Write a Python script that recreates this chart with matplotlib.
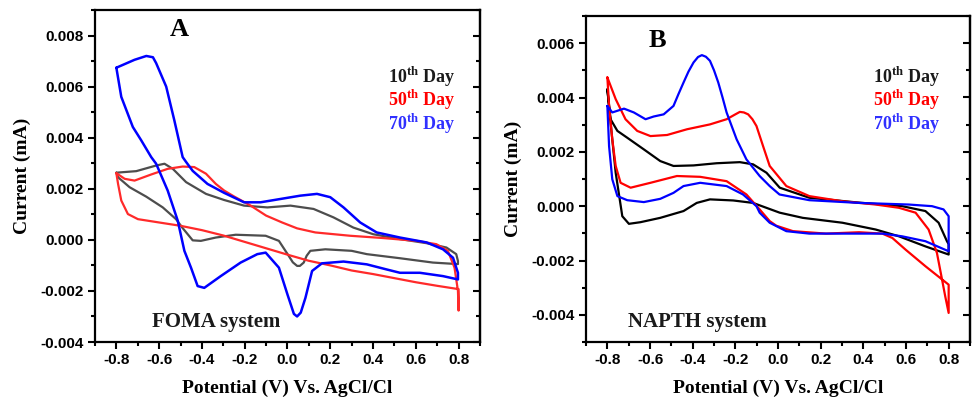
import numpy as np
import matplotlib
matplotlib.use("Agg")
import matplotlib.pyplot as plt
from matplotlib.ticker import MultipleLocator, FormatStrFormatter

plt.rcParams['axes.unicode_minus'] = False
plt.rcParams['mathtext.fontset'] = 'custom'
plt.rcParams['mathtext.rm'] = 'Liberation Serif'
plt.rcParams['mathtext.bf'] = 'Liberation Serif:bold'

# ---- Panel A (FOMA system), potential in V, current in uA (converted to mA) ----
a10_v = [-0.8, -0.707, -0.614, -0.575, -0.536, -0.474, -0.381, -0.296, -0.203, -0.094,
         0.014, 0.122, 0.215, 0.308, 0.401, 0.526, 0.65, 0.743, 0.789, 0.797,
         0.797, 0.68, 0.526, 0.371, 0.3, 0.177, 0.107, 0.09, 0.076, 0.058, 0.045, 0.025, 0.006,
         -0.04, -0.102, -0.242, -0.335, -0.405, -0.443, -0.49, -0.521, -0.583, -0.66,
         -0.738, -0.792, -0.8]
a10_i = [2.63, 2.69, 2.91, 2.98, 2.78, 2.26, 1.80, 1.56, 1.34, 1.27,
         1.34, 1.21, 0.88, 0.48, 0.22, 0.03, -0.13, -0.30, -0.56, -0.83,
         -0.95, -0.89, -0.72, -0.56, -0.43, -0.37, -0.43, -0.62, -0.89, -1.02, -1.02, -0.88, -0.63,
         -0.04, 0.16, 0.20, 0.09, -0.04, -0.02, 0.46, 0.81, 1.27, 1.69,
         2.06, 2.45, 2.63]

a50_v = [-0.8, -0.761, -0.715, -0.637, -0.56, -0.49, -0.436, -0.381, -0.335, -0.296,
         -0.25, -0.172, -0.1, -0.025, 0.045, 0.13, 0.293, 0.448, 0.603, 0.696,
         0.75, 0.781, 0.797, 0.8, 0.8, 0.7, 0.6, 0.5, 0.4, 0.3,
         0.2, 0.1, 0.0, -0.1, -0.2, -0.3, -0.4, -0.5, -0.6, -0.699,
         -0.746, -0.777, -0.792, -0.8]
a50_i = [2.61, 2.39, 2.32, 2.56, 2.78, 2.87, 2.85, 2.59, 2.19, 1.93,
         1.70, 1.34, 0.95, 0.68, 0.45, 0.29, 0.16, 0.07, -0.04, -0.17,
         -0.43, -1.09, -2.0, -2.77, -1.93, -1.80, -1.66, -1.50, -1.34, -1.20,
         -1.0, -0.82, -0.58, -0.33, -0.08, 0.17, 0.38, 0.55, 0.68, 0.81,
         1.01, 1.54, 2.19, 2.61]

a70_v = [-0.8, -0.715, -0.66, -0.629, -0.614, -0.567, -0.529, -0.49, -0.474, -0.443,
         -0.374, -0.296, -0.203, -0.126, -0.033, 0.06, 0.138, 0.2, 0.262, 0.34,
         0.417, 0.526, 0.65, 0.727, 0.774, 0.797, 0.797, 0.727, 0.619, 0.526,
         0.464, 0.371, 0.262, 0.161, 0.115, 0.084, 0.062, 0.045, 0.03, 0.0, -0.04,
         -0.102, -0.141, -0.219, -0.312, -0.389, -0.42, -0.451, -0.482, -0.513, -0.56,
         -0.614, -0.637, -0.684, -0.723, -0.777, -0.8]
a70_i = [6.74, 7.05, 7.2, 7.15, 6.92, 6.0, 4.68, 3.24, 3.05, 2.7,
         2.19, 1.84, 1.47, 1.47, 1.6, 1.73, 1.8, 1.67, 1.27, 0.68,
         0.29, 0.09, -0.10, -0.37, -0.70, -1.29, -1.55, -1.42, -1.29, -1.29,
         -1.16, -0.96, -0.85, -0.92, -1.22, -2.27, -2.85, -3.0, -2.9, -2.14, -1.09,
         -0.5, -0.56, -0.89, -1.42, -1.88, -1.81, -1.09, -0.43, 0.75, 1.93,
         2.98, 3.24, 3.9, 4.42, 5.6, 6.74]

# ---- Panel B (NAPTH system) ----
b10_v = [-0.8, -0.785, -0.753, -0.707, -0.629, -0.552, -0.49, -0.396, -0.288, -0.179,
         -0.117, -0.054, 0.008, 0.147, 0.38, 0.582, 0.691, 0.753, 0.792, 0.8,
         0.8, 0.691, 0.567, 0.458, 0.302, 0.116, 0.008, -0.086, -0.117, -0.21,
         -0.319, -0.381, -0.443, -0.552, -0.645, -0.699, -0.73, -0.761, -0.785, -0.8]
b10_i = [4.30, 3.20, 2.77, 2.52, 2.09, 1.66, 1.48, 1.50, 1.58, 1.62,
         1.54, 1.23, 0.68, 0.31, 0.13, 0.0, -0.18, -0.61, -1.29, -1.40,
         -1.78, -1.48, -1.11, -0.86, -0.61, -0.43, -0.24, 0.03, 0.12, 0.21,
         0.25, 0.12, -0.18, -0.43, -0.59, -0.65, -0.37, 1.23, 3.08, 4.30]

b50_v = [-0.8, -0.761, -0.715, -0.66, -0.598, -0.52, -0.427, -0.319, -0.241, -0.2, -0.179,
         -0.16, -0.14, -0.12, -0.101, -0.07, -0.039, 0.039, 0.147, 0.302, 0.458, 0.567, 0.645,
         0.706, 0.745, 0.769, 0.784, 0.8, 0.8, 0.691, 0.598, 0.536, 0.489,
         0.38, 0.225, 0.07, -0.008, -0.039, -0.086, -0.148, -0.241, -0.365, -0.474,
         -0.598, -0.691, -0.738, -0.761, -0.777, -0.792, -0.8]
b50_i = [4.74, 3.94, 3.20, 2.77, 2.58, 2.62, 2.83, 3.01, 3.20, 3.38, 3.47,
         3.45, 3.38, 3.2, 2.95, 2.21, 1.48, 0.74, 0.37, 0.18, 0.06, -0.06, -0.24,
         -0.86, -1.72, -2.70, -3.32, -3.93, -2.89, -2.21, -1.60, -1.17, -1.01,
         -0.96, -1.01, -0.92, -0.72, -0.55, -0.12, 0.43, 0.92, 1.08, 1.11,
         0.86, 0.68, 0.86, 1.48, 2.46, 3.69, 4.74]

b70_v = [-0.8, -0.777, -0.722, -0.676, -0.621, -0.583, -0.536, -0.49, -0.467, -0.443, -0.42,
         -0.396, -0.375, -0.357, -0.338, -0.319, -0.3, -0.28, -0.26, -0.241, -0.194, -0.148,
         -0.086, -0.039, 0.007, 0.147, 0.38, 0.613, 0.722, 0.776, 0.8, 0.8, 0.691, 0.582,
         0.489, 0.302, 0.147, 0.039, -0.039, -0.086, -0.101, -0.164, -0.241, -0.365,
         -0.443, -0.49, -0.552, -0.629, -0.707, -0.753, -0.777, -0.792, -0.8]
b70_i = [3.69, 3.45, 3.59, 3.45, 3.20, 3.30, 3.38, 3.69, 4.12, 4.55, 4.95,
         5.29, 5.49, 5.56, 5.5, 5.35, 5.0, 4.55, 4.0, 3.45, 2.46, 1.72,
         1.11, 0.74, 0.43, 0.22, 0.12, 0.06, 0.0, -0.12, -0.37, -1.66, -1.29, -1.11,
         -1.01, -1.01, -1.01, -0.92, -0.61, -0.24, 0.0, 0.43, 0.74, 0.86,
         0.74, 0.49, 0.27, 0.15, 0.22, 0.37, 0.99, 2.21, 3.69]

days = ["10", "50", "70"]
day_colors = ["#1a1a1a", "#ff0000", "#3030ff"]

serif = "Liberation Serif"
sans = "Liberation Sans"


def style(ax, ylim):
    ax.set_xlim(-0.9, 0.9)
    ax.set_ylim(*ylim)
    ax.xaxis.set_major_locator(MultipleLocator(0.2))
    ax.xaxis.set_minor_locator(MultipleLocator(0.1))
    ax.yaxis.set_major_locator(MultipleLocator(0.002))
    ax.yaxis.set_minor_locator(MultipleLocator(0.001))
    ax.xaxis.set_major_formatter(FormatStrFormatter('%.1f'))
    ax.yaxis.set_major_formatter(FormatStrFormatter('%.3f'))
    ax.tick_params(which='both', direction='out', top=False, right=False, width=1.5)
    ax.tick_params(which='major', length=5, pad=3)
    ax.tick_params(which='minor', length=3)
    for lab in ax.get_xticklabels() + ax.get_yticklabels():
        lab.set_fontfamily(sans)
        lab.set_fontweight('bold')
        lab.set_fontsize(11)
    for sp in ax.spines.values():
        sp.set_linewidth(1.6)
    sec = ax.secondary_yaxis('right')
    sec.yaxis.set_major_locator(MultipleLocator(0.002))
    sec.yaxis.set_minor_locator(MultipleLocator(0.001))
    sec.tick_params(which='both', direction='in', labelright=False, width=1.5)
    sec.tick_params(which='major', length=5)
    sec.tick_params(which='minor', length=3)
    sec.spines['right'].set_linewidth(1.6)
    ax.set_xlabel("Potential (V) Vs. AgCl/Cl", fontfamily=serif, fontweight='bold',
                  fontsize=14, labelpad=9)
    ax.set_ylabel("Current (mA)", fontfamily=serif, fontweight='bold', fontsize=14,
                  labelpad=7)


def legend_text(ax, x, ys):
    for d, c, y in zip(days, day_colors, ys):
        ax.text(x, y, d + r"$^{\mathbf{th}}$ Day", transform=ax.transAxes, ha='right',
                va='center', color=c, fontfamily=serif, fontweight='bold', fontsize=13)


fig = plt.figure(figsize=(9.73, 4.0), dpi=100)

axA = fig.add_axes([0.0976, 0.145, 0.3957, 0.83])
kw = dict(solid_joinstyle='round', solid_capstyle='round')
axA.plot(a10_v, np.array(a10_i) / 1000, color="#4d4d4d", lw=1.6, **kw)
axA.plot(a50_v, np.array(a50_i) / 1000, color="#ff2a2a", lw=1.6, **kw)
axA.plot(a70_v, np.array(a70_i) / 1000, color="#0000ff", lw=1.8, **kw)
style(axA, (-0.004, 0.009))
axA.text(0.22, 0.94, "A", transform=axA.transAxes, ha='center', va='center',
         fontfamily=serif, fontweight='bold', fontsize=19)
legend_text(axA, 0.935, [0.798, 0.729, 0.657])
axA.text(0.148, 0.06, "FOMA system", transform=axA.transAxes, ha='left', va='center',
         fontfamily=serif, fontweight='bold', fontsize=15, color="#1a1a1a")

axB = fig.add_axes([0.6023, 0.145, 0.3946, 0.815])
axB.plot(b10_v, np.array(b10_i) / 1000, color="#000000", lw=1.6, **kw)
axB.plot(b50_v, np.array(b50_i) / 1000, color="#ff0000", lw=1.6, **kw)
axB.plot(b70_v, np.array(b70_i) / 1000, color="#0000ff", lw=1.6, **kw)
style(axB, (-0.005, 0.007))
axB.text(0.185, 0.926, "B", transform=axB.transAxes, ha='center', va='center',
         fontfamily=serif, fontweight='bold', fontsize=19)
legend_text(axB, 0.922, [0.813, 0.742, 0.669])
axB.text(0.109, 0.061, "NAPTH system", transform=axB.transAxes, ha='left', va='center',
         fontfamily=serif, fontweight='bold', fontsize=15, color="#1a1a1a")

fig.savefig("out.png", dpi=100)
